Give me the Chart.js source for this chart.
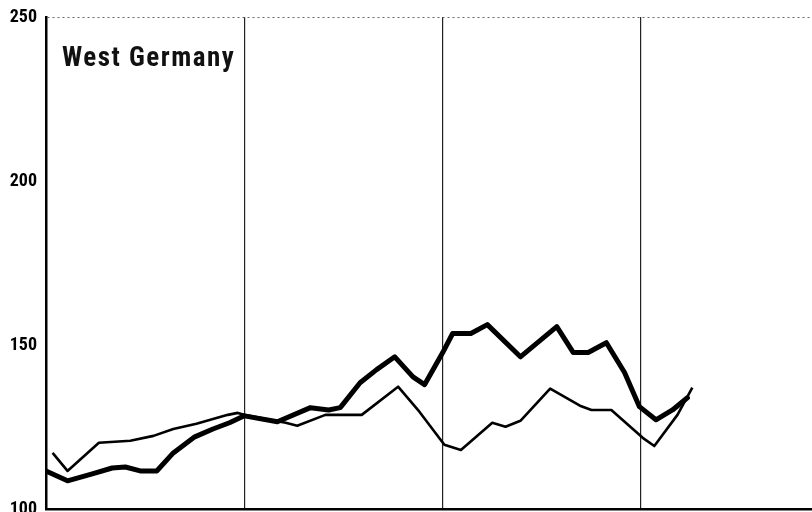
<!DOCTYPE html>
<html>
<head>
<meta charset="utf-8">
<script src="https://cdn.jsdelivr.net/npm/chart.js@4/dist/chart.umd.min.js"></script>
<style>
  html, body { margin: 0; padding: 0; background: #fff; }
  #wrap { position: relative; width: 812px; height: 512px; }
</style>
</head>
<body>
<div id="wrap"><canvas id="c" width="812" height="512"></canvas></div>
<script>
// Chart title
const chartTitle = "West Germany";
// y tick labels
const yTicks = [100, 150, 200, 250];
// year boundaries (in months from start)
const yearMarks = [12, 24, 36];

// Thick series: months from start, index value
const thickMonths = [0, 1.3, 2.8, 4.0, 4.8, 5.7, 6.7, 7.7, 9.0, 10.1, 11.1, 12.0, 14.0, 16.0, 17.1, 17.8, 19.0, 20.0, 21.1, 22.2, 22.9, 24.0, 24.6, 25.7, 26.7, 28.7, 30.9, 31.9, 32.8, 33.9, 35.0, 35.9, 36.9, 37.9, 38.8];
const thickValues = [111.6, 108.6, 110.7, 112.5, 112.8, 111.6, 111.6, 117.1, 122.0, 124.4, 126.3, 128.4, 126.6, 130.9, 130.2, 130.9, 138.5, 142.5, 146.4, 140.3, 137.9, 147.7, 153.5, 153.5, 156.2, 146.4, 155.6, 147.7, 147.7, 150.7, 141.6, 131.2, 127.2, 130.2, 133.9];

// Thin series
const thinMonths = [0.4, 1.3, 3.2, 5.1, 6.5, 7.7, 9.1, 11.0, 11.6, 12.0, 14.5, 15.2, 16.9, 19.1, 21.3, 22.6, 24.1, 25.1, 27.0, 27.8, 28.7, 30.5, 32.3, 33.0, 34.2, 36.1, 36.8, 38.2, 39.1];
const thinValues = [117.1, 111.6, 120.2, 120.8, 122.3, 124.4, 126.0, 128.7, 129.3, 128.7, 126.3, 125.4, 128.7, 128.7, 137.3, 129.6, 119.6, 118.0, 126.3, 125.1, 126.9, 136.7, 131.5, 130.2, 130.2, 121.7, 119.2, 128.7, 137.0];

const toPts = (xs, ys) => xs.map((x, i) => ({ x: x, y: ys[i] }));

const FONT = '"Liberation Sans Narrow", "Roboto Condensed", "Liberation Sans", Arial, sans-serif';

const titlePlugin = {
  id: 'insideTitle',
  afterDraw(chart) {
    const ctx = chart.ctx;
    ctx.save();
    ctx.font = 'bold 27px ' + FONT;
    try { ctx.letterSpacing = '1.5px'; } catch (e) {}
    ctx.fillStyle = '#111';
    ctx.textBaseline = 'alphabetic';
    ctx.textAlign = 'left';
    ctx.fillText(chartTitle, chart.chartArea.left + 16, 66);
    ctx.restore();
  }
};

new Chart(document.getElementById('c'), {
  type: 'line',
  data: {
    datasets: [
      {
        label: 'thick',
        data: toPts(thickMonths, thickValues),
        borderColor: '#000',
        borderWidth: 5,
        pointRadius: 0,
        tension: 0,
        borderJoinStyle: 'round',
        borderCapStyle: 'round'
      },
      {
        label: 'thin',
        data: toPts(thinMonths, thinValues),
        borderColor: '#000',
        borderWidth: 2.6,
        pointRadius: 0,
        tension: 0,
        borderJoinStyle: 'round'
      }
    ]
  },
  plugins: [titlePlugin],
  options: {
    responsive: false,
    animation: false,
    layout: { padding: { top: 17, right: 0, bottom: 0, left: 0 } },
    plugins: { legend: { display: false }, tooltip: { enabled: false }, title: { display: false } },
    scales: {
      x: {
        type: 'linear',
        min: 0,
        max: 46.34,
        afterBuildTicks(scale) { scale.ticks = yearMarks.map(v => ({ value: v })); },
        afterFit(scale) { scale.height = 3; scale.paddingLeft = 0; scale.paddingRight = 0; },
        ticks: { display: false },
        grid: { color: '#222', lineWidth: 1.2, drawTicks: false },
        border: { display: true, color: '#000', width: 2.5 }
      },
      y: {
        min: 100,
        max: 250,
        afterBuildTicks(scale) { scale.ticks = yTicks.map(v => ({ value: v })); },
        afterFit(scale) { scale.width = 46; scale.paddingTop = 0; scale.paddingBottom = 0; },
        ticks: {
          padding: 9,
          color: '#000',
          font: { family: FONT, size: 18, weight: 'bold' }
        },
        grid: {
          drawTicks: false,
          color: ctx => (ctx.tick && ctx.tick.value === 250) ? '#666' : 'rgba(0,0,0,0)',
          lineWidth: 1
        },
        border: { display: true, color: '#000', width: 2.5, dash: [2, 3] }
      }
    }
  }
});
</script>
</body>
</html>
